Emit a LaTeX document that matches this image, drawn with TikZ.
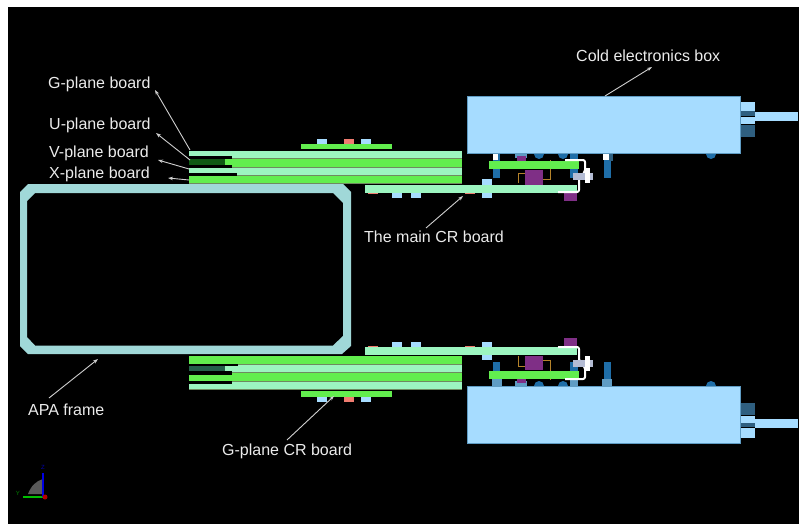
\documentclass[tikz,border=0pt]{standalone}
\usepackage{fontspec}
\setmainfont{Liberation Sans}
\usetikzlibrary{arrows.meta}
\definecolor{bx}{HTML}{A6DCFF}
\definecolor{bxe}{HTML}{5F9CC4}
\definecolor{grn}{HTML}{62EE4E}
\definecolor{mint}{HTML}{9CF5C0}
\definecolor{frm}{HTML}{A0D8D8}
\definecolor{dblue}{HTML}{1F6EA8}
\definecolor{purp}{HTML}{7F2F86}
\definecolor{salm}{HTML}{F07C70}
\definecolor{steel}{HTML}{2F5F80}
\definecolor{lead}{HTML}{D0D0D0}
\definecolor{dgrn}{HTML}{0F5A14}
\definecolor{dteal}{HTML}{24604A}
\definecolor{wire}{HTML}{B5832A}
\definecolor{sep}{HTML}{6F8A60}
\definecolor{bolt}{HTML}{B4BCD4}
\tikzset{
 x=1pt,y=-1pt,
 lab/.style={text=white!92!black,font=\fontsize{16}{18}\selectfont,inner sep=0pt,anchor=west},
 ldr/.style={draw=lead,line width=.9pt,-{Stealth[length=5pt,width=3.5pt]}},
}
\newcommand{\bx}[5]{\fill[#1] (#2,#3) rectangle (#4,#5);}
\begin{document}
\begin{tikzpicture}
\useasboundingbox (0,0) rectangle (799,524);
\fill[white] (0,0) rectangle (799,524);
\fill[black] (8,7) rectangle (799,524);
% ---------- APA frame
\fill[frm,even odd rule]
 (28,184)--(343,184)--(351,192)--(351,346)--(342,354)--(28,354)--(20,346)--(20,192)--cycle
 (35,193)--(333,193)--(343,203)--(343,336)--(333,345.5)--(35,345.5)--(27,337)--(27,201)--cycle;
% ---------- upper boards
\bx{sep}{189}{150.5}{462}{183.5}
\bx{mint}{189}{151}{462}{158}
\bx{black}{189}{156}{232}{158.7}
\bx{grn}{189}{159}{462}{167}
\bx{dgrn}{189}{159}{225}{165}
\bx{black}{189}{165}{232}{167.7}
\bx{mint}{189}{168}{462}{175}
\bx{black}{189}{172.7}{237}{175.5}
\bx{grn}{189}{176}{462}{183}
% G-plane CR board
\bx{grn}{301}{143.5}{392}{148.5}
\bx{bx}{317}{139}{327}{143.5}
\bx{salm}{344}{139}{354}{143.5}
\bx{bx}{361}{139}{371}{143.5}
% main CR
\bx{mint}{365}{185}{577}{193}
\bx{bx}{392}{193}{402}{198}
\bx{bx}{411}{193}{421}{198}
\bx{salm}{368}{193}{378}{194}
\bx{salm}{465}{193}{475}{194}
% ---------- lower boards
\bx{sep}{189}{355.5}{462}{389.5}
\bx{grn}{189}{356}{462}{363.5}
\bx{black}{189}{363.5}{238}{366}
\bx{mint}{238}{365}{462}{372}
\bx{mint}{225}{366}{238}{372}
\bx{dteal}{189}{366}{225}{371}
\bx{black}{189}{371}{232}{375}
\bx{grn}{232}{373}{462}{381}
\bx{grn}{189}{375}{232}{381}
\bx{black}{189}{381}{232}{383.7}
\bx{mint}{232}{382}{462}{389}
\bx{mint}{189}{384}{232}{389}
\bx{grn}{301}{391}{392}{397}
\bx{bx}{317}{397}{327}{401.5}
\bx{salm}{344}{397}{354}{401.5}
\bx{bx}{361}{397}{371}{401.5}
% main CR lower
\bx{mint}{365}{347}{577}{355}
\bx{bx}{392}{342}{402}{347}
\bx{bx}{411}{342}{421}{347}
\bx{salm}{368}{346}{378}{347}
\bx{salm}{465}{346}{475}{347}
% ---------- upper electronics
\bx{dblue}{493}{154}{500}{178}
\bx{white}{493}{154}{498}{160}
\bx{dblue}{604}{154}{611}{178}
\bx{steel}{609}{154}{613}{161}
\bx{white}{603}{154}{609}{160}
\bx{bxe}{515}{153}{527}{158}
\bx{purp}{517}{156}{526}{161}
\fill[dblue] (539,154) circle (5);
\fill[dblue] (563,154) circle (5);
\fill[dblue] (711,154) circle (5);
\bx{dblue}{570}{154}{578}{178}
\bx{purp}{525}{170}{543}{185}
\bx{purp}{564}{193}{577}{201}
\bx{bx}{482}{179}{492}{198}
\draw[wire,line width=.6pt] (518,183)--(518,173)--(525,173) (543,179)--(550,179)--(550,160);
\bx{grn}{489}{161}{579}{169}
\bx{mint}{482}{185}{492}{193}
\draw[white,line width=2pt,line join=round,rounded corners=2pt] (565,160)--(585,160)--(585,172)--(579,178)--(579,192)--(558,192);
\bx{bolt}{573}{173}{593}{180}
\bx{white}{585}{168}{590}{183}
\fill[bx,draw=bxe,line width=.8pt] (467,96) rectangle (740,153.5);
\bx{bx}{741}{102}{755}{111}
\bx{steel}{741}{111}{755}{116}
\bx{bx}{741}{117}{755}{124}
\bx{steel}{741}{125}{755}{137}
\bx{bx}{755}{112}{798}{121}
% ---------- lower electronics
\bx{dblue}{493}{362}{500}{386}
\bx{bxe}{492}{379}{502}{386}
\bx{dblue}{604}{362}{611}{386}
\bx{bxe}{602}{379}{612}{386}
\bx{bxe}{515}{381}{527}{386}
\bx{purp}{517}{379}{526}{383}
\fill[dblue] (539,386) circle (5);
\fill[dblue] (563,386) circle (5);
\fill[dblue] (711,386) circle (5);
\bx{dblue}{570}{362}{578}{386}
\bx{bxe}{570}{379}{578}{386}
\bx{purp}{525}{356}{543}{370}
\bx{purp}{564}{338}{577}{346}
\bx{bx}{482}{342}{492}{360}
\bx{mint}{482}{347}{492}{355}
\draw[wire,line width=.6pt] (518,356)--(518,366)--(525,366) (543,360)--(550,360)--(550,380);
\bx{grn}{489}{371}{579}{379}
\draw[white,line width=2pt,line join=round,rounded corners=2pt] (565,379)--(585,379)--(585,367)--(579,361)--(579,347)--(558,347);
\bx{bolt}{573}{360}{593}{367}
\bx{white}{585}{356}{590}{371}
\fill[bx,draw=bxe,line width=.8pt] (467,386) rectangle (740,443);
\bx{steel}{741}{403}{755}{415}
\bx{bx}{741}{416}{755}{423}
\bx{steel}{741}{423}{755}{427}
\bx{bx}{741}{428}{755}{438}
\bx{bx}{755}{418.5}{798}{427.5}
% ---------- triad
\fill[black!65!white] (28,494)--(43,494)--(43,479) .. controls (36,481) and (31,486) .. (28,494);
\draw[green!75!black,line width=2pt] (23,497)--(44,497);
\draw[blue!90!black,line width=2pt] (43,497)--(43,473);
\fill[red!70!black] (45,497) circle (2.5);
\node[text=green!50!black,font=\fontsize{6}{6}\selectfont,inner sep=0pt] (ty) at (18,493) {Y};
\node[text=blue!70!black,font=\fontsize{6}{6}\selectfont,inner sep=0pt] (tz) at (43,467) {Z};
% ---------- labels
\node[lab] (g) at (48,84.5) {G-plane board};
\node[lab] (u) at (49,125.5) {U-plane board};
\node[lab] (v) at (49,153.5) {V-plane board};
\node[lab] (xb) at (49,174.5) {X-plane board};
\node[lab] (cold) at (576,56) {Cold electronics box};
\node[lab] (main) at (364,236.5) {The main CR board};
\node[lab] (apa) at (28,409.5) {APA frame};
\node[lab] (gcr) at (222,451.5) {G-plane CR board};
\coordinate (tg) at (155,90);
\coordinate (tu) at (156,133);
\coordinate (tv) at (158,160);
\coordinate (tx) at (168,178);
\coordinate (tc) at (652,67);
\coordinate (tm) at (463,196);
\coordinate (ta) at (98,359);
\coordinate (tr) at (334,396);
\coordinate (fg) at (190,150);
\coordinate (fu) at (190,160);
\coordinate (fv) at (189,169);
\coordinate (fx) at (189,180);
\coordinate (fc) at (605,96);
\coordinate (fm) at (426,228);
\coordinate (fa) at (49,398);
\coordinate (fr) at (287,440);
\draw[ldr] (fg)--(tg);
\draw[ldr] (fu)--(tu);
\draw[ldr] (fv)--(tv);
\draw[ldr] (fx)--(tx);
\draw[ldr] (fc)--(tc);
\draw[ldr] (fm)--(tm);
\draw[ldr] (fa)--(ta);
\draw[ldr] (fr)--(tr);
\end{tikzpicture}
\end{document}
